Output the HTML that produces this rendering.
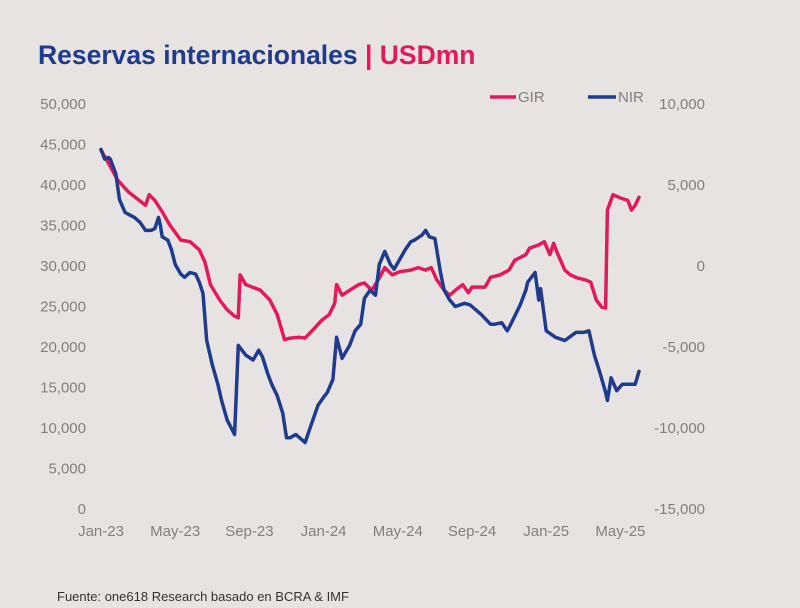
<!DOCTYPE html>
<html><head><meta charset="utf-8"><style>
body{margin:0;background:#e8e3e3;}
svg{display:block;font-family:"Liberation Sans",sans-serif;}
</style></head><body>
<svg id="chart" width="800" height="608" viewBox="0 0 800 608">
<rect width="800" height="608" fill="#e8e3e3"/>
<text x="38" y="64" font-size="26.5" font-weight="bold"><tspan fill="#1f3b8c">Reservas internacionales</tspan><tspan fill="#e3195c"> | USDmn</tspan></text>
<g id="yl"></g>
<g id="yr"></g>
<g id="xa"></g>
<g id="series"></g>
<g>
<g><line x1="490" y1="97" x2="516" y2="97" stroke="#e3195c" stroke-width="3.5"/><text x="518" y="102" font-size="15" fill="#808080">GIR</text></g>
<g><line x1="588" y1="97" x2="616" y2="97" stroke="#1f3b8c" stroke-width="3.5"/><text x="618" y="102" font-size="15" fill="#808080">NIR</text></g>
</g>
<text x="57" y="601" font-size="13" fill="#333">Fuente: one618 Research basado en BCRA &amp; IMF</text>
</svg>
<script>
const xLabels=["Jan-23","May-23","Sep-23","Jan-24","May-24","Sep-24","Jan-25","May-25"];
const xLabelMonths=[0,4,8,12,16,20,24,28];
const leftTicks=[0,5000,10000,15000,20000,25000,30000,35000,40000,45000,50000];
const rightTicks=[-15000,-10000,-5000,0,5000,10000];
const girMonths=[0,0.4,0.9,1.5,2.4,2.6,2.9,3.3,3.7,4.3,4.8,5.3,5.6,5.9,6.4,6.8,7.2,7.4,7.5,7.8,8.6,9.1,9.5,9.9,10.2,10.7,11.0,11.5,11.9,12.3,12.6,12.7,13.0,13.4,13.9,14.2,14.6,15.0,15.3,15.7,16.1,16.7,17.1,17.5,17.8,18.1,18.5,18.8,19.1,19.5,19.8,20.0,20.7,21.0,21.5,22.0,22.3,22.9,23.1,23.6,23.9,24.2,24.4,24.6,25.0,25.3,25.7,26.1,26.4,26.7,27.0,27.2,27.3,27.6,28.0,28.4,28.6,28.8,29.0];
const girValues=[44300,42700,40600,39100,37500,38800,38100,36700,35100,33200,33000,32000,30500,27700,25800,24600,23800,23600,28900,27700,27000,25800,24000,20900,21100,21200,21100,22300,23300,24000,25400,27700,26400,27000,27700,27900,27000,28500,29800,28900,29300,29500,29800,29500,29800,28300,27000,26400,27000,27700,26700,27400,27400,28600,28900,29500,30700,31400,32200,32600,33000,31400,32800,31600,29500,28900,28500,28300,28000,25800,24900,24800,36900,38800,38400,38100,36900,37500,38500];
const nirMonths=[0,0.2,0.4,0.5,0.8,1.0,1.3,1.8,2.1,2.4,2.7,2.9,3.1,3.2,3.3,3.6,3.8,4.0,4.3,4.5,4.8,5.1,5.3,5.5,5.7,6.0,6.3,6.5,6.8,7.2,7.4,7.8,8.2,8.5,8.7,9.0,9.2,9.5,9.8,10.0,10.2,10.5,10.7,11.0,11.3,11.7,12.0,12.2,12.5,12.7,13.0,13.4,13.7,14.0,14.2,14.5,14.8,15.0,15.3,15.6,15.8,16.4,16.7,16.9,17.3,17.5,17.7,18.0,18.3,18.5,18.8,19.1,19.6,19.9,20.2,20.5,21.0,21.2,21.6,21.9,22.0,22.3,22.6,22.9,23.0,23.4,23.6,23.7,24.0,24.5,25.0,25.6,26.0,26.3,26.6,26.9,27.2,27.3,27.5,27.8,28.1,28.5,28.8,29.0];
const nirValues=[7200,6600,6700,6600,5700,4100,3300,3000,2700,2200,2200,2300,3000,2500,1800,1600,1000,100,-500,-700,-400,-500,-1000,-1700,-4600,-6100,-7300,-8300,-9500,-10400,-4900,-5500,-5800,-5200,-5600,-6700,-7300,-8000,-9100,-10600,-10600,-10400,-10600,-10900,-9900,-8600,-8100,-7800,-7000,-4400,-5700,-4900,-4000,-3600,-2000,-1500,-1800,100,900,100,-200,1000,1500,1600,1900,2200,1800,1700,-400,-1500,-2100,-2500,-2300,-2400,-2700,-3000,-3600,-3600,-3500,-4000,-3800,-3100,-2400,-1500,-1000,-400,-2100,-1400,-4000,-4400,-4600,-4100,-4100,-4000,-5500,-6600,-7800,-8300,-6900,-7700,-7300,-7300,-7300,-6500];

const NS="http://www.w3.org/2000/svg";
const X=m=>101+m*18.55;
const YL=v=>509-v*0.0081;
const YR=v=>509-(v+15000)*0.0162;
const fmt=v=>v.toLocaleString("en-US");
function mk(tag,attrs,parent,txt){const e=document.createElementNS(NS,tag);for(const k in attrs)e.setAttribute(k,attrs[k]);if(txt!==undefined)e.textContent=txt;parent.appendChild(e);return e;}
const yl=document.getElementById("yl"),yr=document.getElementById("yr"),xa=document.getElementById("xa"),sg=document.getElementById("series");
leftTicks.forEach(v=>{const t=mk("text",{x:86,y:YL(v)+5,"text-anchor":"end","font-size":15,fill:"#808080"},yl,fmt(v));

});
rightTicks.forEach(v=>{const t=mk("text",{x:705,y:YR(v)+5,"text-anchor":"end","font-size":15,fill:"#808080"},yr,fmt(v));

});
xLabels.forEach((l,i)=>{const t=mk("text",{x:X(xLabelMonths[i]),y:536,"text-anchor":"middle","font-size":15,fill:"#808080"},xa,l);

});
function line(ms,vs,yf,color,name){const d=ms.map((m,i)=>(i?"L":"M")+X(m).toFixed(1)+","+yf(vs[i]).toFixed(1)).join("");
const p=mk("path",{d:d,fill:"none",stroke:color,"stroke-width":3.5,"stroke-linejoin":"round","stroke-linecap":"round"},sg);

}
line(girMonths,girValues,YL,"#e3195c","gir-line");
line(nirMonths,nirValues,YR,"#1f3b8c","nir-line");
</script>
</body></html>
